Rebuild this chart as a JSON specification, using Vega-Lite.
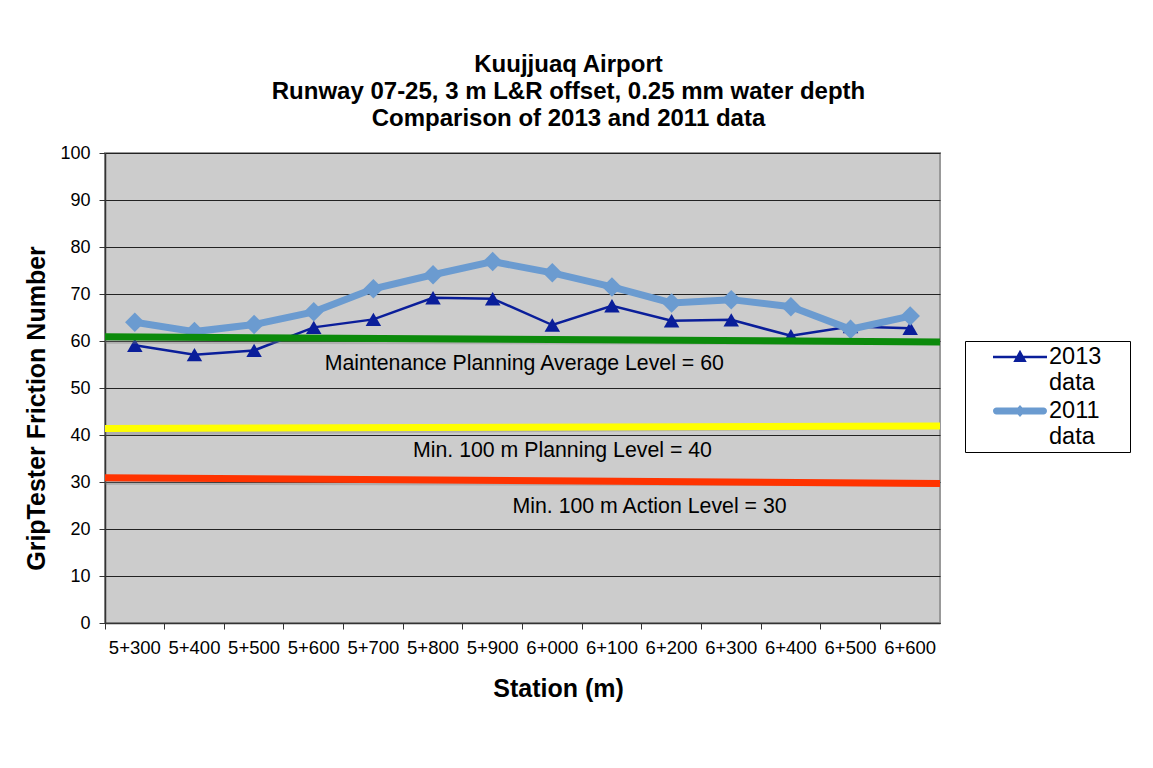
{
  "$schema": "https://vega.github.io/schema/vega-lite/v6.json",
  "width": 835,
  "height": 470,
  "autosize": {"type": "none"},
  "padding": {"left": 105, "top": 153, "right": 213, "bottom": 145},
  "background": "white",
  "title": {
    "text": ["Kuujjuaq Airport", "Runway 07-25, 3 m L&R offset, 0.25 mm water depth", "Comparison of 2013 and 2011 data"],
    "font": "Liberation Sans",
    "fontSize": 24,
    "fontWeight": "bold",
    "lineHeight": 27,
    "color": "black",
    "anchor": "middle",
    "dx": 46,
    "offset": 13
  },
  "datasets": {
    "series": [
      {"station": "5+300", "series": "2013 data", "value": 59.1},
      {"station": "5+400", "series": "2013 data", "value": 57.1},
      {"station": "5+500", "series": "2013 data", "value": 58.0},
      {"station": "5+600", "series": "2013 data", "value": 62.9},
      {"station": "5+700", "series": "2013 data", "value": 64.6},
      {"station": "5+800", "series": "2013 data", "value": 69.2},
      {"station": "5+900", "series": "2013 data", "value": 69.0},
      {"station": "6+000", "series": "2013 data", "value": 63.4},
      {"station": "6+100", "series": "2013 data", "value": 67.5},
      {"station": "6+200", "series": "2013 data", "value": 64.3},
      {"station": "6+300", "series": "2013 data", "value": 64.5},
      {"station": "6+400", "series": "2013 data", "value": 61.1},
      {"station": "6+500", "series": "2013 data", "value": 63.1},
      {"station": "6+600", "series": "2013 data", "value": 62.7},
      {"station": "5+300", "series": "2011 data", "value": 64.0},
      {"station": "5+400", "series": "2011 data", "value": 62.0},
      {"station": "5+500", "series": "2011 data", "value": 63.5},
      {"station": "5+600", "series": "2011 data", "value": 66.2},
      {"station": "5+700", "series": "2011 data", "value": 71.1},
      {"station": "5+800", "series": "2011 data", "value": 74.1},
      {"station": "5+900", "series": "2011 data", "value": 76.9},
      {"station": "6+000", "series": "2011 data", "value": 74.5},
      {"station": "6+100", "series": "2011 data", "value": 71.5},
      {"station": "6+200", "series": "2011 data", "value": 68.1},
      {"station": "6+300", "series": "2011 data", "value": 68.8},
      {"station": "6+400", "series": "2011 data", "value": 67.3},
      {"station": "6+500", "series": "2011 data", "value": 62.5},
      {"station": "6+600", "series": "2011 data", "value": 65.3}
    ],
    "levels": [
      {"level": "Maintenance Planning Average Level = 60", "station": "5+300", "to": "6+600", "value": 60.9, "value2": 59.8},
      {"level": "Min. 100 m Planning Level = 40", "station": "5+300", "to": "6+600", "value": 41.4, "value2": 41.9},
      {"level": "Min. 100 m Action Level = 30", "station": "5+300", "to": "6+600", "value": 30.9, "value2": 29.7}
    ],
    "notes": [
      {"note": "Maintenance Planning Average Level = 60", "station": "6+000", "value": 55.2},
      {"note": "Min. 100 m Planning Level = 40", "station": "6+000", "value": 36.5},
      {"note": "Min. 100 m Action Level = 30", "station": "6+200", "value": 24.7}
    ]
  },
  "encoding": {
    "x": {
      "field": "station",
      "type": "nominal",
      "sort": null,
      "scale": {
        "type": "band",
        "paddingInner": 0,
        "paddingOuter": 0,
        "domain": ["5+300", "5+400", "5+500", "5+600", "5+700", "5+800", "5+900", "6+000", "6+100", "6+200", "6+300", "6+400", "6+500", "6+600"]
      },
      "axis": {
        "title": "Station (m)",
        "labelAngle": 0,
        "bandPosition": 0,
        "titleX": 453,
        "titleAlign": "center",
        "titlePadding": 20,
        "labelPadding": 9
      }
    },
    "y": {
      "field": "value",
      "type": "quantitative",
      "scale": {"domain": [0, 100], "nice": false},
      "axis": {
        "title": "GripTester Friction Number",
        "values": [0, 10, 20, 30, 40, 50, 60, 70, 80, 90, 100],
        "titlePadding": 10,
        "titleY": 255,
        "labelPadding": 9
      }
    }
  },
  "layer": [
    {
      "data": {"name": "series"},
      "mark": {"type": "point", "filled": true, "size": 0, "opacity": 1},
      "encoding": {
        "color": {
          "field": "series",
          "type": "nominal",
          "scale": {"domain": ["2013 data", "2011 data"], "range": ["#0a1e9a", "#6b9bd0"]},
          "legend": {
            "title": null,
            "orient": "none",
            "legendX": 860,
            "legendY": 188,
            "fillColor": "white",
            "strokeColor": "black",
            "padding": 4,
            "symbolSize": 576,
            "symbolOffset": 39,
            "symbolOpacity": 1,
            "symbolStrokeWidth": 0,
            "labelFont": "Liberation Sans",
            "labelFontSize": 23.5,
            "labelColor": "black",
            "labelOffset": 17,
            "labelLimit": 300,
            "labelBaseline": "middle",
            "labelExpr": "[split(datum.label, ' ')[0] + '\u00a0\u2800', split(datum.label, ' ')[1]]",
            "rowPadding": 5
          }
        },
        "shape": {
          "field": "series",
          "type": "nominal",
          "scale": {
            "domain": ["2013 data", "2011 data"],
            "range": [
              "M-2.25,-0.1H2.25V0.1H-2.25Z M-0.56,0.42L0,-0.6L0.56,0.42Z",
              "M-1.96,-0.29H1.96A0.29,0.29 0 0 1 1.96,0.29H-1.96A0.29,0.29 0 0 1 -1.96,-0.29Z M0,-0.5L0.45,0L0,0.5L-0.45,0Z"
            ]
          }
        }
      }
    },
    {
      "data": {"name": "series"},
      "transform": [{"filter": "datum.series == '2013 data'"}],
      "mark": {"type": "line", "color": "#0a1e9a", "strokeWidth": 2.5}
    },
    {
      "data": {"name": "series"},
      "transform": [{"filter": "datum.series == '2013 data'"}],
      "mark": {"type": "point", "shape": "triangle-up", "filled": true, "opacity": 1, "size": 240, "color": "#0a1e9a"}
    },
    {
      "data": {"name": "series"},
      "transform": [{"filter": "datum.series == '2011 data'"}],
      "mark": {"type": "line", "color": "#6b9bd0", "strokeWidth": 7}
    },
    {
      "data": {"name": "series"},
      "transform": [{"filter": "datum.series == '2011 data'"}],
      "mark": {"type": "point", "shape": "diamond", "filled": true, "opacity": 1, "size": 380, "color": "#6b9bd0"}
    },
    {
      "data": {"name": "levels"},
      "mark": {"type": "rule", "color": "#777777", "strokeWidth": 6, "opacity": 0.35, "yOffset": 4},
      "encoding": {
        "x": {"field": "station", "type": "nominal", "bandPosition": 0},
        "x2": {"field": "to", "bandPosition": 1},
        "y2": {"field": "value2"}
      }
    },
    {
      "data": {"name": "levels"},
      "transform": [{"filter": "datum.level == 'Maintenance Planning Average Level = 60'"}],
      "mark": {"type": "rule", "color": "#0b8a0b", "strokeWidth": 7},
      "encoding": {
        "x": {"field": "station", "type": "nominal", "bandPosition": 0},
        "x2": {"field": "to", "bandPosition": 1},
        "y2": {"field": "value2"}
      }
    },
    {
      "data": {"name": "levels"},
      "transform": [{"filter": "datum.level == 'Min. 100 m Planning Level = 40'"}],
      "mark": {"type": "rule", "color": "#ffff00", "strokeWidth": 7},
      "encoding": {
        "x": {"field": "station", "type": "nominal", "bandPosition": 0},
        "x2": {"field": "to", "bandPosition": 1},
        "y2": {"field": "value2"}
      }
    },
    {
      "data": {"name": "levels"},
      "transform": [{"filter": "datum.level == 'Min. 100 m Action Level = 30'"}],
      "mark": {"type": "rule", "color": "#ff3300", "strokeWidth": 7},
      "encoding": {
        "x": {"field": "station", "type": "nominal", "bandPosition": 0},
        "x2": {"field": "to", "bandPosition": 1},
        "y2": {"field": "value2"}
      }
    },
    {
      "data": {"name": "notes"},
      "transform": [{"filter": "datum.note == 'Maintenance Planning Average Level = 60'"}],
      "mark": {"type": "text", "font": "Liberation Sans", "fontSize": 21.3, "color": "black", "align": "center", "baseline": "middle"},
      "encoding": {
        "x": {"field": "station", "type": "nominal", "bandPosition": 0.03},
        "text": {"field": "note"}
      }
    },
    {
      "data": {"name": "notes"},
      "transform": [{"filter": "datum.note == 'Min. 100 m Planning Level = 40'"}],
      "mark": {"type": "text", "font": "Liberation Sans", "fontSize": 21.3, "color": "black", "align": "center", "baseline": "middle"},
      "encoding": {
        "x": {"field": "station", "type": "nominal", "bandPosition": 0.67},
        "text": {"field": "note"}
      }
    },
    {
      "data": {"name": "notes"},
      "transform": [{"filter": "datum.note == 'Min. 100 m Action Level = 30'"}],
      "mark": {"type": "text", "font": "Liberation Sans", "fontSize": 21.3, "color": "black", "align": "center", "baseline": "middle"},
      "encoding": {
        "x": {"field": "station", "type": "nominal", "bandPosition": 0.13},
        "text": {"field": "note"}
      }
    }
  ],
  "config": {
    "view": {"fill": "#cccccc", "stroke": "#999999", "strokeWidth": 2},
    "axis": {
      "labelFont": "Liberation Sans",
      "labelColor": "black",
      "titleFont": "Liberation Sans",
      "titleFontWeight": "bold",
      "titleFontSize": 25,
      "titleColor": "black",
      "domainColor": "#333333",
      "tickColor": "#333333",
      "tickSize": 6,
      "domainWidth": 1.5
    },
    "axisX": {"labelFontSize": 18.5, "grid": false},
    "axisY": {"labelFontSize": 18, "grid": true, "gridColor": "#222222", "gridWidth": 1}
  }
}
